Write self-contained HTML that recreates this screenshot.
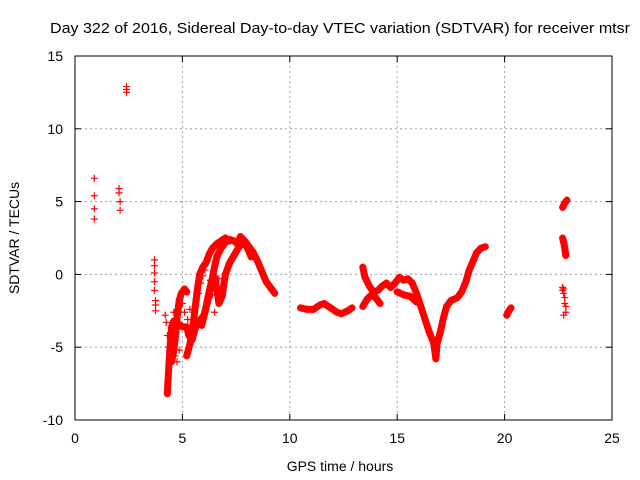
<!DOCTYPE html>
<html><head><meta charset="utf-8"><style>
body{margin:0;background:#fff}
svg{display:block;font-family:"Liberation Sans",sans-serif}
</style></head><body>
<svg id="chart" width="640" height="480" viewBox="0 0 640 480">
<text x="50" y="33" font-size="15" textLength="580" lengthAdjust="spacingAndGlyphs">Day 322 of 2016, Sidereal Day-to-day VTEC variation (SDTVAR) for receiver mtsr</text>
<text x="340" y="471" font-size="14" text-anchor="middle">GPS time / hours</text>
<text transform="translate(19,238) rotate(-90)" font-size="14" text-anchor="middle">SDTVAR / TECUs</text>
<g id="grid"></g><g id="marks"></g>
<rect x="75" y="56" width="537" height="364" fill="none" stroke="#000" stroke-width="1"/>
<g id="ticks"></g>
</svg>
<script>
const xTicks=[0,5,10,15,20,25];
const yTicks=[-10,-5,0,5,10,15];
const isolated=[0.9,6.6,0.9,5.4,0.9,4.5,0.9,3.8,2.05,5.9,2.05,5.6,2.1,5.0,2.1,4.4,2.4,12.9,2.4,12.7,2.4,12.5,
3.7,1.0,3.7,0.6,3.7,0.1,3.7,-0.5,3.7,-1.1,3.75,-1.8,3.75,-2.1,3.75,-2.5,
4.2,-2.8,4.25,-3.3,4.3,-4.2,4.35,-5.0,4.55,-4.8,4.65,-5.6,4.75,-6.0,4.85,-5.2,4.6,-2.6,5.0,-2.0,5.1,-2.6,5.25,-3.1,5.35,-2.4,
5.55,-2.6,5.65,-1.8,5.75,-1.3,5.85,-0.6,5.95,-0.1,6.05,0.3,6.3,-0.4,6.4,-1.4,6.5,-2.6,6.55,0.9,6.2,1.2,6.7,-0.3,
22.7,-0.9,22.75,-1.3,22.8,-2.0,22.85,-2.6,22.75,-2.8,22.8,-1.6,22.7,-1.1,22.75,-1.0,22.85,-2.2];
const seriesA=[4.3,-8.2,4.32,-7.5,4.35,-6.8,4.4,-5.5,4.45,-4.5,4.5,-3.6,4.6,-3.2,4.8,-3.4,5.0,-3.6,5.2,-3.6,5.3,-4.2,5.45,-4.5,5.6,-3.7,5.8,-3.2,6.0,-2.8,6.15,-2.0,6.3,-1.0,6.45,0.2,6.6,1.2,6.8,1.8,7.0,2.2,7.2,2.4,7.4,2.3,7.55,2.1,7.7,2.6,7.9,2.3,8.1,1.9,8.3,1.5,8.5,0.9,8.7,0.2,8.9,-0.5,9.1,-0.9,9.3,-1.3];
const seriesB=[4.5,-6.0,4.6,-5.2,4.7,-4.0,4.75,-3.0,4.85,-1.8,4.95,-1.3,5.1,-1.0,5.2,-1.2];
const seriesC=[5.2,-5.6,5.35,-4.8,5.5,-3.5,5.6,-2.2,5.7,-1.0,5.8,0.0,5.95,0.5,6.1,0.8,6.25,1.4,6.4,1.8,6.6,2.1,6.8,2.3,7.0,2.5,7.2,2.3];
const seriesD=[5.9,-3.5,6.05,-2.6,6.2,-1.5,6.35,-0.5,6.5,-0.2,6.6,-1.0,6.7,-2.0,6.85,-1.5,7.0,0.0,7.2,0.8,7.4,1.3,7.6,1.8,7.8,2.2,8.0,1.9,8.2,1.2];
const seriesE=[10.5,-2.3,10.8,-2.4,11.1,-2.4,11.4,-2.1,11.6,-2.0,11.9,-2.3,12.2,-2.6,12.4,-2.7,12.7,-2.5,12.9,-2.3];
const seriesF=[13.4,0.5,13.5,-0.2,13.7,-0.8,13.9,-1.2,14.1,-1.1,14.3,-0.8,14.5,-0.6,14.7,-0.9,14.9,-0.6,15.1,-0.2,15.3,-0.4,15.5,-0.3,15.7,-0.6,15.9,-1.3,16.1,-2.2,16.3,-3.1,16.5,-4.0,16.7,-4.7,16.8,-5.8,16.85,-4.8,17.0,-4.0,17.15,-3.0,17.3,-2.2,17.5,-1.8,17.8,-1.6,18.0,-1.2,18.2,-0.5,18.35,0.3,18.5,0.8,18.7,1.5,18.9,1.8,19.1,1.9];
const seriesG=[13.4,-2.2,13.6,-1.7,13.8,-1.4,14.0,-1.6,14.2,-2.0];
const seriesK=[15.0,-1.2,15.3,-1.4,15.6,-1.5,15.9,-1.9];
const seriesH=[20.1,-2.8,20.2,-2.5,20.3,-2.3];
const seriesI=[22.7,4.6,22.8,4.9,22.9,5.1];
const seriesJ=[22.7,2.5,22.75,2.2,22.8,1.8,22.85,1.3];
const X0=75,X1=612,Y0=420,Y1=56;
const sx=v=>X0+(v-0)/(25-0)*(X1-X0);
const sy=v=>Y0-(v-(-10))/(15-(-10))*(Y0-Y1);
const NS="http://www.w3.org/2000/svg";
const grid=document.getElementById('grid'),ticks=document.getElementById('ticks'),marks=document.getElementById('marks');
function mk(t,a,p){const e=document.createElementNS(NS,t);for(const k in a)e.setAttribute(k,a[k]);p.appendChild(e);return e;}
xTicks.forEach(v=>{const x=sx(v);
 if(v>0&&v<25){const g=mk('line',{x1:x,x2:x,y1:Y1,y2:Y0,stroke:'#a0a0a0','stroke-dasharray':'2,3'},grid);
 
 }
 mk('line',{x1:x,x2:x,y1:Y0,y2:Y0-6,stroke:'#000'},ticks);mk('line',{x1:x,x2:x,y1:Y1,y2:Y1+6,stroke:'#000'},ticks);
 const t=mk('text',{x:x,y:443,'font-size':14,'text-anchor':'middle'},ticks);t.textContent=v;
 
 });
yTicks.forEach(v=>{const y=sy(v);
 if(v>-10&&v<15){const g=mk('line',{x1:X0,x2:X1,y1:y,y2:y,stroke:'#a0a0a0','stroke-dasharray':'2,3'},grid);
 
 }
 mk('line',{x1:X0,x2:X0+6,y1:y,y2:y,stroke:'#000'},ticks);mk('line',{x1:X1,x2:X1-6,y1:y,y2:y,stroke:'#000'},ticks);
 const t=mk('text',{x:63,y:y+5,'font-size':14,'text-anchor':'end'},ticks);t.textContent=v;
 
 });
function plus(x,y){const p=mk('path',{d:`M${sx(x)-3.5},${sy(y)}h7M${sx(x)},${sy(y)-3.5}v7`,stroke:'#f00','stroke-width':1.2,fill:'none'},marks);
 
 }
[seriesA,seriesB,seriesC,seriesD,seriesE,seriesF,seriesG,seriesK,seriesH,seriesI,seriesJ].forEach((s,i)=>{
 let d='';for(let k=0;k<s.length;k+=2)d+=(k?'L':'M')+sx(s[k])+','+sy(s[k+1]);
 const l=mk('path',{d:d,stroke:'#f00','stroke-width':7,fill:'none','stroke-linejoin':'round','stroke-linecap':'round'},marks);
 
 
 for(let k=0;k<s.length;k+=2)plus(s[k],s[k+1]);});
for(let k=0;k<isolated.length;k+=2)plus(isolated[k],isolated[k+1]);
</script>
</body></html>
